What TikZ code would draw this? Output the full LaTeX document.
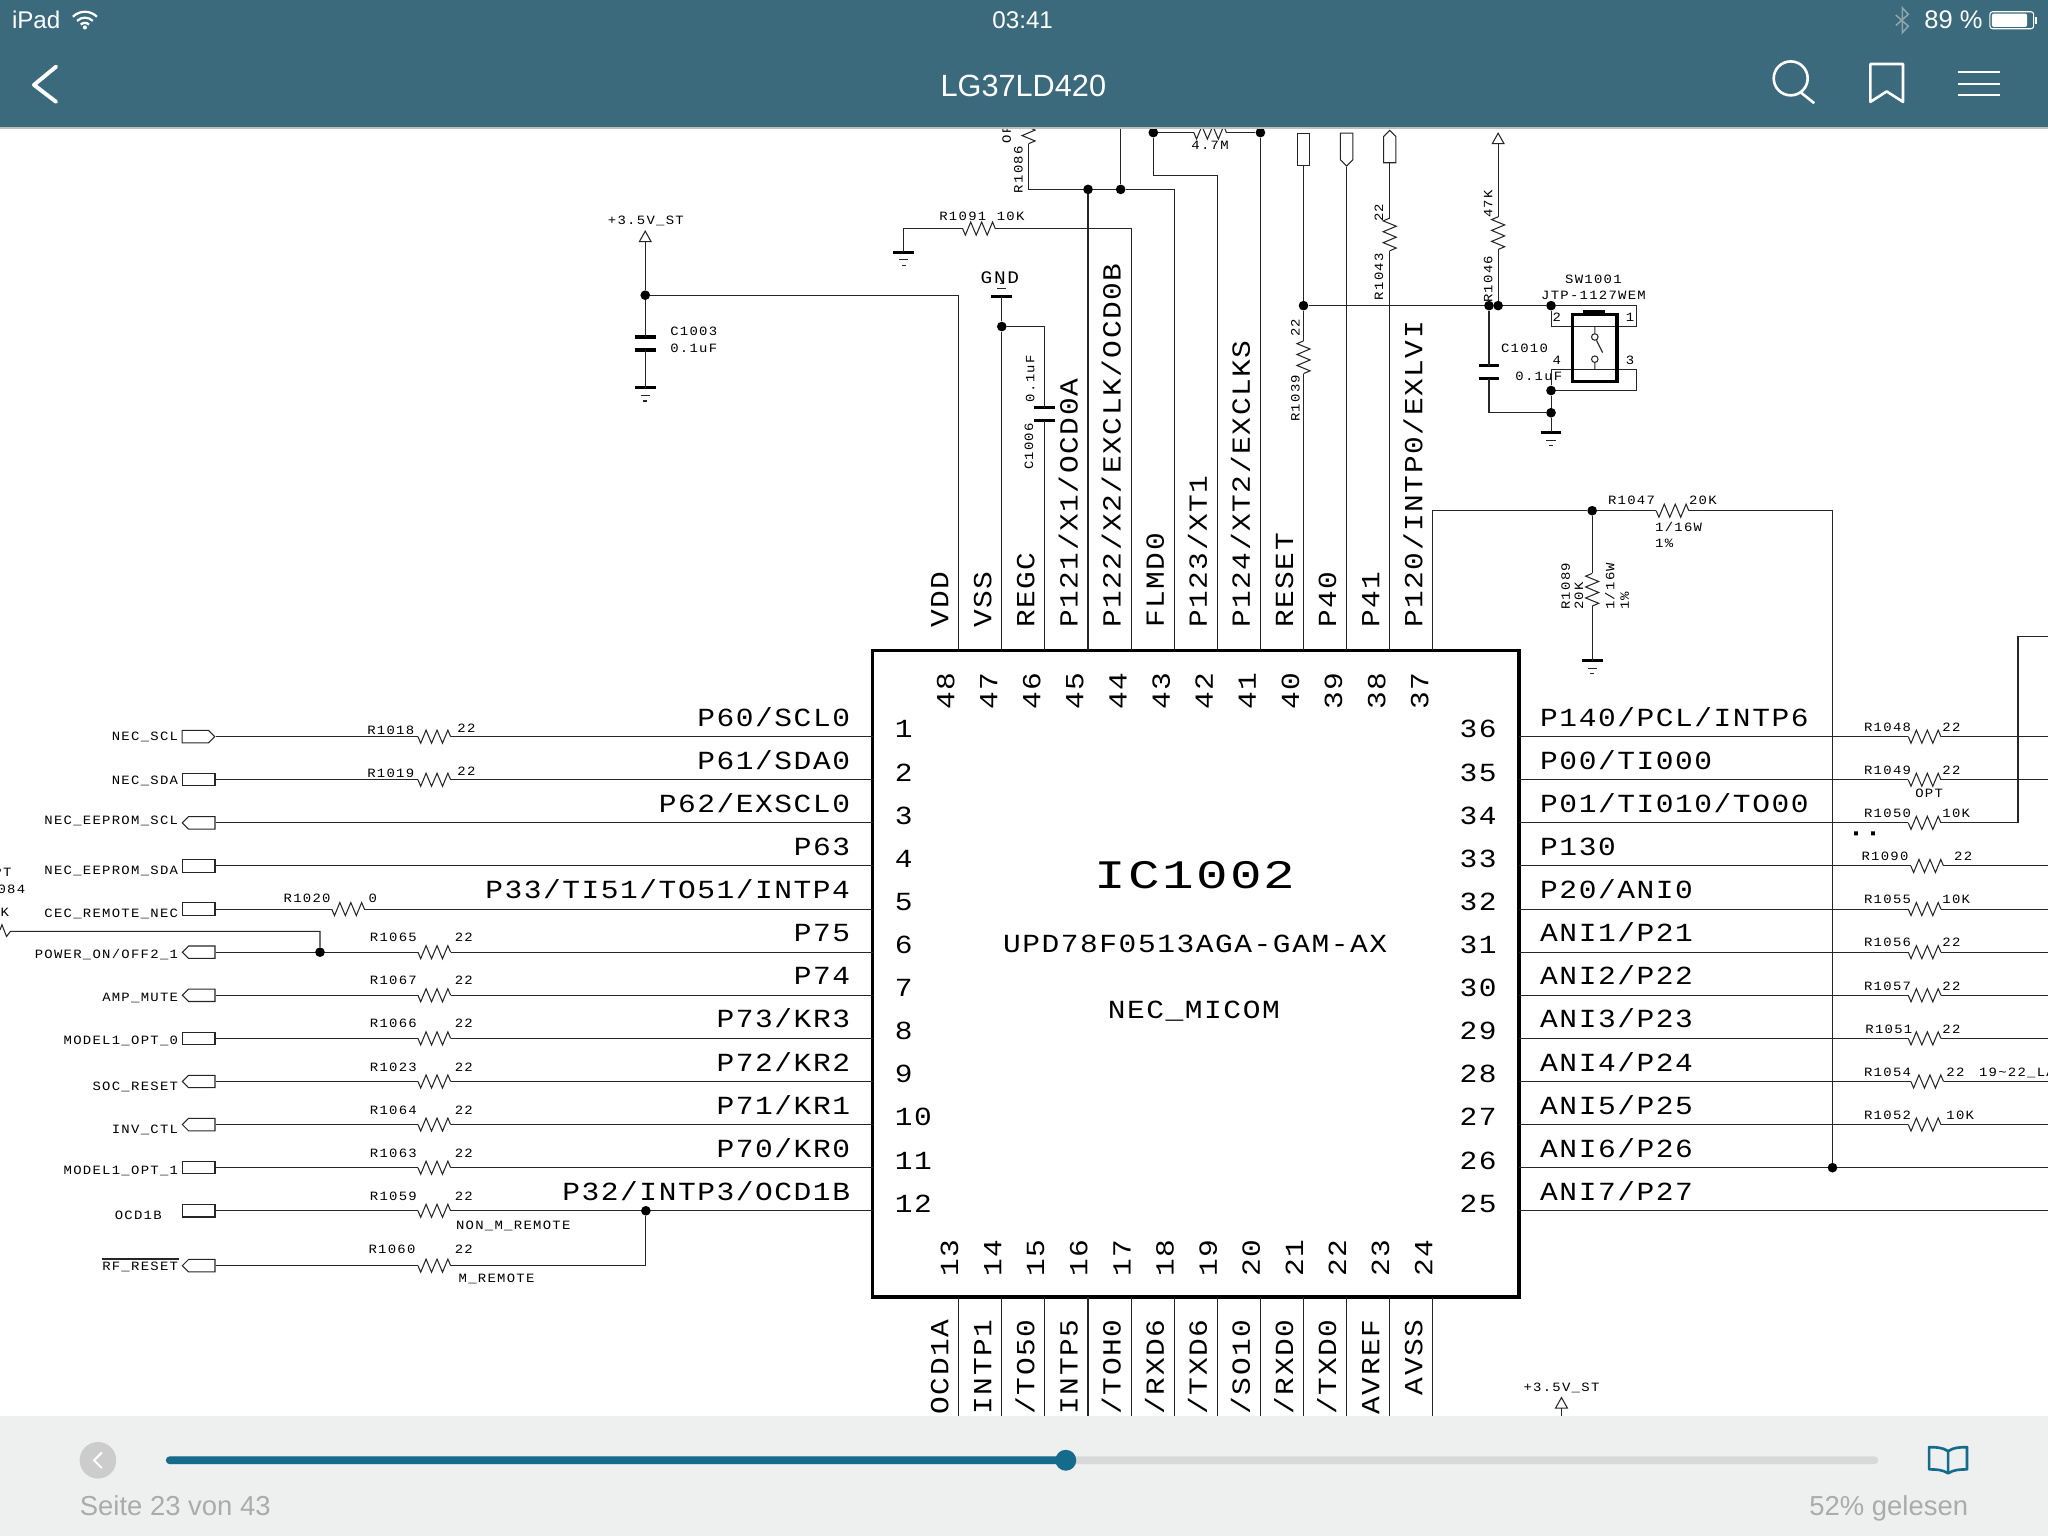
\documentclass[tikz,border=0pt]{standalone}
\usepackage{fontspec}
\usetikzlibrary{shapes.symbols}
\setmainfont{Liberation Sans}
\newfontfamily\sheetfont[FakeStretch=1.13,LetterSpace=6]{Liberation Mono}
\newfontfamily\notefont[FakeStretch=1.1,LetterSpace=10]{Liberation Mono}
\newfontfamily\chipfont[FakeStretch=1.3,LetterSpace=5.5]{Liberation Mono}
\definecolor{barblue}{HTML}{3B6A7D}
\definecolor{barlight}{HTML}{EEEFEF}
\definecolor{seekblue}{HTML}{156B8C}
\definecolor{seektrack}{HTML}{D8D8D8}
\definecolor{seekgrey}{HTML}{ABABAB}
\tikzset{
   wire/.style = {line width = 0.8pt, black!85},
   plate/.style = {line width = 2.4pt, black},
   pinname/.style = {font=\sheetfont\fontsize{20}{24}\selectfont, inner sep=0pt},
   pinnum/.style = {pinname},
   note/.style = {font=\notefont\fontsize{9.7}{12}\selectfont, inner sep=0pt},
   notev/.style = {note, rotate=90, anchor=base west},
   dot/.style = {circle, fill=black, inner sep=0pt, minimum size=7.4pt},
   tagrect/.style = {draw, wire, inner sep=0pt, minimum width=25pt, minimum height=9.5pt},
   tagleft/.style = {tagrect, signal, signal to=west, signal from=nowhere},
   tagright/.style = {tagrect, signal, signal to=east, signal from=nowhere},
   resh/.pic = {
      \draw [wire] (0,0) -- (2.1,5) -- (6.2,-5) -- (10.4,5) -- (14.6,-5)
         -- (18.8,5) -- (22.9,-5) -- (25,0);
      \coordinate (-a) at (0,0);
      \coordinate (-b) at (25,0);
   },
   capv/.pic = {
      \draw [plate] (-8,-5) -- (8,-5) (-8,5) -- (8,5);
      \coordinate (-a) at (0,-5);
      \coordinate (-b) at (0,5);
   },
   gnd/.pic = {
      \draw [plate] (-8,0) -- (8,0);
      \draw [wire] (-3.5,6) -- (3.5,6) (-1.5,10) -- (1.5,10);
   },
   pwr/.pic = {
      \draw [wire] (0,0) -- (-4.5,8) -- (4.5,8) -- cycle;
      \coordinate (-b) at (0,8);
   },
}

\begin{document}
\begin{tikzpicture}[x=1pt, y=-1pt]
   \useasboundingbox (0,0) rectangle (1568,1176);
   \fill [white] (0,0) rectangle (1568,1176);

   % chip body and its pin ends
   \node [draw, line width=3pt, inner sep=0pt, minimum width=495pt, minimum height=495pt]
      (ic) at (915.5,745.5) {};
   \node [font=\chipfont\fontsize{31}{36}\selectfont, inner sep=0pt] (icname) at (915,670) {IC1002};
   \node [pinname] (icpart) at (915,723) {UPD78F0513AGA-GAM-AX};
   \node [pinname] (icnet) at (914,774) {NEC\_MICOM};

   % left pins
   \foreach \i/\txt in {1/{P60/SCL0},2/{P61/SDA0},3/{P62/EXSCL0},4/{P63},
         5/{P33/TI51/TO51/INTP4},6/{P75},7/{P74},8/{P73/KR3},9/{P72/KR2},
         10/{P71/KR1},11/{P70/KR0},12/{P32/INTP3/OCD1B}} {
      \pgfmathsetmacro\y{564+33*(\i-1)}
      \coordinate (L\i) at (668,\y);
      \node [pinname, anchor=base east] (Lname\i) at (651,\y-8) {\txt};
      \node [pinnum, anchor=base west] (Lnum\i) at (685,\y+1) {\i};
   }
   % right pins
   \foreach \i/\txt in {36/{P140/PCL/INTP6},35/{P00/TI000},34/{P01/TI010/TO00},33/{P130},
         32/{P20/ANI0},31/{ANI1/P21},30/{ANI2/P22},29/{ANI3/P23},28/{ANI4/P24},
         27/{ANI5/P25},26/{ANI6/P26},25/{ANI7/P27}} {
      \pgfmathsetmacro\y{564+33*(36-\i)}
      \coordinate (R\i) at (1163,\y);
      \coordinate (E\i) at (1568,\y);
      \node [pinname, anchor=base west] (Rname\i) at (1179,\y-8) {\txt};
      \node [pinnum, anchor=base east] (Rnum\i) at (1146,\y+1) {\i};
   }
   % top pins
   \foreach \i/\txt in {48/{VDD},47/{VSS},46/{REGC},45/{P121/X1/OCD0A},44/{P122/X2/EXCLK/OCD0B},
         43/{FLMD0},42/{P123/XT1},41/{P124/XT2/EXCLKS},40/{RESET},39/{P40},38/{P41},
         37/{P120/INTP0/EXLVI}} {
      \pgfmathsetmacro\x{734+33*(48-\i)}
      \coordinate (T\i) at (\x,498);
      \node [pinname, rotate=90, anchor=base west] (Tname\i) at (\x-8,481) {\txt};
      \node [pinnum, rotate=90] (Tnum\i) at (\x-10,529) {\i};
   }
   % bottom pins
   \foreach \i/\txt in {13/{OCD1A},14/{INTP1},15/{/TO50},16/{INTP5},17/{/TOH0},18/{/RXD6},
         19/{/TXD6},20/{/SO10},21/{/RXD0},22/{/TXD0},23/{AVREF},24/{AVSS}} {
      \pgfmathsetmacro\x{734+33*(\i-13)}
      \coordinate (B\i) at (\x,993);
      \coordinate (Bend\i) at (\x,1090);
      \node [pinname, rotate=90, anchor=base east] (Bname\i) at (\x-8,1010) {\txt};
      \node [pinnum, rotate=90] (Bnum\i) at (\x-7,963) {\i};
      \draw [wire] (B\i) -- (Bend\i);
   }

   % tags on the left
   \foreach \i/\y/\kind/\txt/\by in {1/564/tagright/NEC\_SCL/567,2/597/tagrect/NEC\_SDA/601,
         3/630/tagleft/NEC\_EEPROM\_SCL/631.5,4/663/tagrect/NEC\_EEPROM\_SDA/669.5,
         5/696/tagrect/CEC\_REMOTE\_NEC/702.5,6/729/tagleft/{POWER\_ON/OFF2\_1}/734,
         7/762/tagleft/AMP\_MUTE/766.5,8/795/tagrect/MODEL1\_OPT\_0/800,
         9/828/tagleft/SOC\_RESET/835,10/861/tagleft/INV\_CTL/868,
         11/894/tagrect/MODEL1\_OPT\_1/899.5,13/969/tagleft/RF\_RESET/973} {
      \node [\kind, anchor=east] (tag\i) at (165,\y) {};
      \node [note, anchor=base east] (taglabel\i) at (136.5,\by) {\txt};
   }
   \node [tagrect, anchor=east] (tag12) at (165,927) {};
   \node [note, anchor=base east] (taglabel12) at (124,933.5) {OCD1B};
   \draw [wire, line width=1pt] (taglabel13.north west) ++(0,-2.5) -- ++(59,0);

   % resistors on the left
   \foreach \i/\rname/\by/\ry in {1/R1018/-2/-3,2/R1019/-2/-3} {
      \pgfmathsetmacro\y{564+33*(\i-1)}
      \pic (\rname) at (320,\y) {resh};
      \node [note, anchor=base west] (\rname-name) at (281,\y+\by) {\rname};
      \node [note, anchor=base west] (\rname-val) at (350,\y+\ry) {22};
      \draw [wire] (tag\i.east) -- (\rname-a) (\rname-b) -- (L\i);
   }
   \foreach \i/\rname in {6/R1065,7/R1067,8/R1066,9/R1023,10/R1064,11/R1063,12/R1059} {
      \pgfmathsetmacro\y{564+33*(\i-1)}
      \pic (\rname) at (320,\y) {resh};
      \node [note, anchor=base west] (\rname-name) at (283,\y-8) {\rname};
      \node [note, anchor=base west] (\rname-val) at (348,\y-8) {22};
      \draw [wire] (tag\i.east) -- (\rname-a) (\rname-b) -- (L\i);
   }
   \pic (R1020) at (254,696) {resh};
   \node [note, anchor=base west] (R1020-name) at (217,691) {R1020};
   \node [note, anchor=base west] (R1020-val) at (282,691) {0};
   \draw [wire] (tag5.east) -- (R1020-a) (R1020-b) -- (L5);
   \draw [wire] (tag3.east) -- (L3) (tag4.east) -- (L4);
   % rf reset joins pin 12
   \pic (R1060) at (320,969) {resh};
   \node [note, anchor=base west] (R1060-name) at (282,960) {R1060};
   \node [note, anchor=base west] (R1060-val) at (348,960) {22};
   \node [note, anchor=base west] (nonm) at (349,941) {NON\_M\_REMOTE};
   \node [note, anchor=base west] (mrem) at (351,982) {M\_REMOTE};
   \node [dot] (j12) at (494.5,927) {};
   \draw [wire] (tag13.east) -- (R1060-a) (R1060-b) -| (j12);
   % power on branch, running off the sheet
   \node [dot] (j6) at (245,729) {};
   \draw [wire] (j6) |- (8,713) -- (5,717) -- (1.5,708) -- (0,712);
   \node [note, anchor=base east] (cutA) at (9,671) {PT};
   \node [note, anchor=base east] (cutB) at (19.5,684) {084};
   \node [note, anchor=base east] (cutC) at (7,702) {K};

   % resistors on the right
   \foreach \i/\rname/\rval/\lx/\rx/\vx in {36/R1048/22/1427/1461/1487,35/R1049/22/1427/1461/1487,
         32/R1055/10K/1427/1461/1487,31/R1056/22/1427/1461/1487,30/R1057/22/1427/1461/1487,
         29/R1051/22/1428/1461/1487,33/R1090/22/1425/1463/1496,28/R1054/22/1427/1463/1490,
         27/R1052/10K/1427/1461/1490} {
      \pgfmathsetmacro\y{564+33*(36-\i)}
      \pic (\rname) at (\rx,\y) {resh};
      \node [note, anchor=base west] (\rname-name) at (\lx,\y-4) {\rname};
      \node [note, anchor=base west] (\rname-val) at (\vx,\y-4) {\rval};
      \draw [wire] (R\i) -- (\rname-a) (\rname-b) -- (E\i);
   }
   \pic (R1050) at (1461,630) {resh};
   \node [note, anchor=base west] (R1050-name) at (1427,626) {R1050};
   \node [note, anchor=base west] (R1050-val) at (1487,626) {10K};
   \coordinate (exitA) at (1545,487);
   \coordinate (exitB) at (1568,487);
   \draw [wire] (R34) -- (R1050-a) (R1050-b) -| (exitA) -- (exitB);
   \node [note] (optA) at (1477,607.5) {OPT};
   \node [note, anchor=base west] (lanote) at (1515,824) {19\textasciitilde22\_LA};
   \fill (1419.5,636.5) rectangle +(3,3) (1432.5,636.5) rectangle +(3,3);
   \draw [wire] (R26) -- (E26) (R25) -- (E25);

   % pin 37, R1047 and R1089
   \node [dot] (j37) at (1219,391) {};
   \node [dot] (j26) at (1403,894) {};
   \pic (R1047) at (1268,391) {resh};
   \draw [wire] (T37) |- (j37) -- (R1047-a) (R1047-b) -| (j26);
   \node [note, anchor=base west] (R1047-name) at (1231,386) {R1047};
   \node [note, anchor=base west] (R1047-val) at (1293,386) {20K};
   \node [note, anchor=base west] (R1047-w) at (1267,407) {1/16W};
   \node [note, anchor=base west] (R1047-p) at (1267,419) {1\%};
   \pic [rotate=-90] (R1089) at (1219,439) {resh};
   \coordinate (g5) at (1219,506);
   \pic at (g5) {gnd};
   \draw [wire] (j37) -- (R1089-a) (R1089-b) -- (g5);
   \node [notev] (R1089-name) at (1202,467) {R1089};
   \node [notev] (R1089-val) at (1212,467) {20K};
   \node [notev] (R1089-w) at (1236,467) {1/16W};
   \node [notev] (R1089-p) at (1247,467) {1\%};

   % vdd and its capacitor
   \pic (pwrA) at (494,177) {pwr};
   \node [note] (pwrAname) at (494.5,169) {+3.5V\_ST};
   \node [dot] (jvdd) at (494,226) {};
   \pic (C1003) at (494,263) {capv};
   \coordinate (g1) at (494,297);
   \pic at (g1) {gnd};
   \draw [wire] (pwrA-b) -- (jvdd) -- (C1003-a) (C1003-b) -- (g1);
   \draw [wire] (jvdd) -| (T48);
   \node [note, anchor=base west] (C1003-name) at (513,257) {C1003};
   \node [note, anchor=base west] (C1003-val) at (513,270) {0.1uF};

   % R1091 to pin 44
   \coordinate (g2) at (692,193);
   \pic at (g2) {gnd};
   \pic (R1091) at (737,175) {resh};
   \draw [wire] (g2) |- (R1091-a) (R1091-b) -| (T44);
   \node [note, anchor=base west] (R1091-name) at (719,168.5) {R1091};
   \node [note, anchor=base west] (R1091-val) at (763,168.5) {10K};

   % vss, regc
   \coordinate (g3) at (767,227);
   \pic [yscale=-1] at (g3) {gnd};
   \node [note, font=\notefont\fontsize{13.5}{16}\selectfont] (gndname) at (765.5,212.5) {GND};
   \node [dot] (jvss) at (767,250) {};
   \draw [wire] (g3) -- (jvss) -- (T47);
   \pic (C1006) at (800,317) {capv};
   \draw [wire] (jvss) -| (C1006-a) (C1006-b) -- (T46);
   \node [notev] (C1006-name) at (791,360) {C1006};
   \node [notev] (C1006-val) at (792,308) {0.1uF};

   % crystal pins at the top
   \node [dot] (jxa) at (833,145) {};
   \node [dot] (jxb) at (858,145) {};
   \pic [rotate=-90] (R1086) at (787.5,85) {resh};
   \coordinate (jxc) at (787.5,145);
   \coordinate (xtop) at (858,90);
   \draw [wire] (R1086-b) -- (jxc) -- (jxa) -- (jxb) -| (T43);
   \draw [wire] (jxa) -- (T45) (jxb) -- (xtop);
   \node [notev] (R1086-name) at (783,148) {R1086};
   \node [notev] (R1086-val) at (774,110) {OP};
   \node [dot] (jya) at (883,101.5) {};
   \node [dot] (jyb) at (965,101.5) {};
   \pic (R47) at (914,101.5) {resh};
   \coordinate (yknee) at (883,134.5);
   \draw [wire] (jya) -- (R47-a) (R47-b) -- (jyb) -- (T41);
   \draw [wire] (jya) -- (yknee) -| (T42);
   \node [note, anchor=base west] (R47-val) at (912,114.5) {4.7M};

   % reset and the switch
   \node [tagrect, anchor=north, minimum width=9.5pt, minimum height=24.5pt] (tagP40) at (998,101.5) {};
   \node [tagrect, signal, signal to=south, signal from=nowhere, anchor=north, minimum width=9.5pt,
      minimum height=20.5pt] (tagP39) at (1031,101.5) {};
   \node [tagrect, signal, signal to=north, signal from=nowhere, anchor=south, minimum width=9.5pt,
      minimum height=20pt] (tagP38) at (1064,125) {};
   \node [dot] (jra) at (998,234) {};
   \node [dot] (jrb) at (1140,234) {};
   \node [dot] (jrc) at (1147,234) {};
   \node [dot] (jrd) at (1187.5,234) {};
   \pic [rotate=-90] (R1039) at (998,261) {resh};
   \draw [wire] (tagP40.south) -- (jra) -- (R1039-a) (R1039-b) -- (T40);
   \draw [wire] (tagP39.south) -- (T39);
   \pic [rotate=-90] (R1043) at (1064,167) {resh};
   \draw [wire] (tagP38.south) -- (R1043-a) (R1043-b) -- (T38);
   \node [notev] (R1039-name) at (995,323) {R1039};
   \node [notev] (R1039-val) at (995,258) {22};
   \node [notev] (R1043-name) at (1059,230) {R1043};
   \node [notev] (R1043-val) at (1059,170) {22};
   \pic (pwrC) at (1147,102) {pwr};
   \pic [rotate=-90] (R1046) at (1147,166) {resh};
   \draw [wire] (pwrC-b) -- (R1046-a) (R1046-b) -- (jrc);
   \node [notev] (R1046-name) at (1142.5,232) {R1046};
   \node [notev] (R1046-val) at (1142.5,167) {47K};
   \pic (C1010) at (1140,285) {capv};
   \node [dot] (jsa) at (1187.5,299) {};
   \node [dot] (jsb) at (1187.5,316) {};
   \coordinate (g4) at (1187.5,331);
   \pic at (g4) {gnd};
   \draw [wire] (jra) -- (jrb) -- (jrc) -- (jrd);
   \draw [wire] (jrb) -- (C1010-a) (C1010-b) |- (jsb);
   \draw [wire] (jsa) -- (jsb) -- (g4);
   \node [note, anchor=base west] (C1010-name) at (1149,270) {C1010};
   \node [note, anchor=base west] (C1010-val) at (1160,291.5) {0.1uF};
   \node [note] (swname) at (1220,214) {SW1001};
   \node [note] (swpart) at (1220,226) {JTP-1127WEM};
   \coordinate (swA) at (1253,234);
   \coordinate (swB) at (1253,250);
   \coordinate (swC) at (1187.5,250);
   \coordinate (swD) at (1187.5,283);
   \coordinate (swE) at (1253,283);
   \coordinate (swF) at (1253,299);
   \draw [wire] (jrd) -- (swA) -- (swB) -- (swC) -- (jrd);
   \draw [wire] (swD) -- (swE) -- (swF) -- (jsa) -- (swD);
   \node [draw, line width=2.6pt, inner sep=0pt, minimum width=34pt, minimum height=51pt]
      (swbody) at (1221,266.5) {};
   \fill (1212,237) rectangle (1229,241);
   \node [circle, draw, wire, fill=white, inner sep=0pt, minimum size=5pt] (swtop) at (1221,258) {};
   \node [circle, draw, wire, fill=white, inner sep=0pt, minimum size=5pt] (swbot) at (1221,275) {};
   \coordinate (swarm) at (1227,270);
   \coordinate (swG) at (1221,250);
   \coordinate (swH) at (1221,283);
   \draw [wire] (swG) -- (swtop) (swtop) -- (swarm) (swbot) -- (swH);
   \foreach \n/\x/\y in {2/1192/243,1/1248/243,4/1192/276,3/1248/276}
      \node [note] (swpin\n) at (\x,\y) {\n};

   % stray supply at the bottom
   \pic (pwrD) at (1195.5,1070) {pwr};
   \coordinate (pwrDend) at (1195.5,1090);
   \draw [wire] (pwrD-b) -- (pwrDend);
   \node [note] (pwrDname) at (1195.5,1063) {+3.5V\_ST};

   % reader bars over the sheet
   \fill [barblue] (0,0) rectangle (1568,98);
   \draw [black!25, line width=0.8pt] (0,98) -- (1568,98);
   \fill [barlight] (0,1084) rectangle (1568,1176);
   \begin{scope}[every node/.style = {text=white, inner sep=0pt}]
      \node [font=\fontsize{18.5}{22}\selectfont, anchor=base west] (ipad) at (9,22) {iPad};
      \node [font=\fontsize{18.5}{22}\selectfont, anchor=base] (clock) at (783,22) {03:41};
      \node [font=\fontsize{19.5}{22}\selectfont, anchor=base east] (charge) at (1518,22) {89 \%};
      \node [font=\fontsize{23.5}{28}\selectfont, anchor=base] (title) at (783.5,73.5) {LG37LD420};
   \end{scope}
   % wifi
   \begin{scope}[white, line width=1.7pt]
      \draw (65,22) ++(225:13) arc [start angle=225, end angle=315, radius=13];
      \draw (65,22) ++(225:8.5) arc [start angle=225, end angle=315, radius=8.5];
      \draw (65,22) ++(225:4.5) arc [start angle=225, end angle=315, radius=4.5];
      \fill (65,21) circle [radius=1.6];
   \end{scope}
   % bluetooth
   \draw [black!15!barblue!55!white, line width=1.2pt] (1451.5,11.5) -- (1461,20) -- (1456.5,25)
      -- (1456.5,6) -- (1461,11) -- (1451.5,19.5);
   % battery
   \draw [white, line width=0.8pt, rounded corners=2pt] (1523.5,9) rectangle (1557,22);
   \fill [white, rounded corners=1pt] (1525,10.5) rectangle (1552,20.5);
   \fill [white] (1558,13) rectangle (1559.5,18);
   % back, search, bookmark, menu
   \draw [white, line width=3pt, line cap=round, line join=round] (43,51) -- (26,65) -- (43,78);
   \draw [white, line width=2pt] (1371,60) circle [radius=13];
   \draw [white, line width=2pt] (1379,71) -- (1389,79);
   \draw [white, line width=2pt, line join=round] (1432,49) -- (1457,49) -- (1457,78) -- (1444.5,70) -- (1432,78) -- cycle;
   \draw [white, line width=1.6pt] (1499,55) -- (1531,55) (1499,64) -- (1531,64) (1499,73) -- (1531,73);
   % seek bar
   \fill [seektrack, rounded corners=3pt] (127,1115) rectangle (1438,1121);
   \fill [seekblue, rounded corners=3pt] (127,1115) rectangle (816,1121);
   \fill [seekblue] (816,1118) circle [radius=8];
   \fill [black!20] (75,1118) circle [radius=14];
   \draw [white, line width=1.6pt] (78,1112) -- (72,1118) -- (78,1124);
   \draw [seekblue, line width=2pt, line join=round] (1491.5,1111)
      .. controls (1487,1108) and (1482,1108) .. (1477,1108) -- (1477,1125)
      .. controls (1482,1125) and (1487,1125) .. (1491.5,1128)
      .. controls (1496,1125) and (1501,1125) .. (1506,1125) -- (1506,1108)
      .. controls (1501,1108) and (1496,1108) .. (1491.5,1111) -- (1491.5,1128);
   \node [text=seekgrey, font=\fontsize{21}{26}\selectfont, inner sep=0pt, anchor=base west]
      (pageno) at (61,1160) {Seite 23 von 43};
   \node [text=seekgrey, font=\fontsize{21}{26}\selectfont, inner sep=0pt, anchor=base east]
      (progress) at (1507,1160) {52\% gelesen};
\end{tikzpicture}
\end{document}
